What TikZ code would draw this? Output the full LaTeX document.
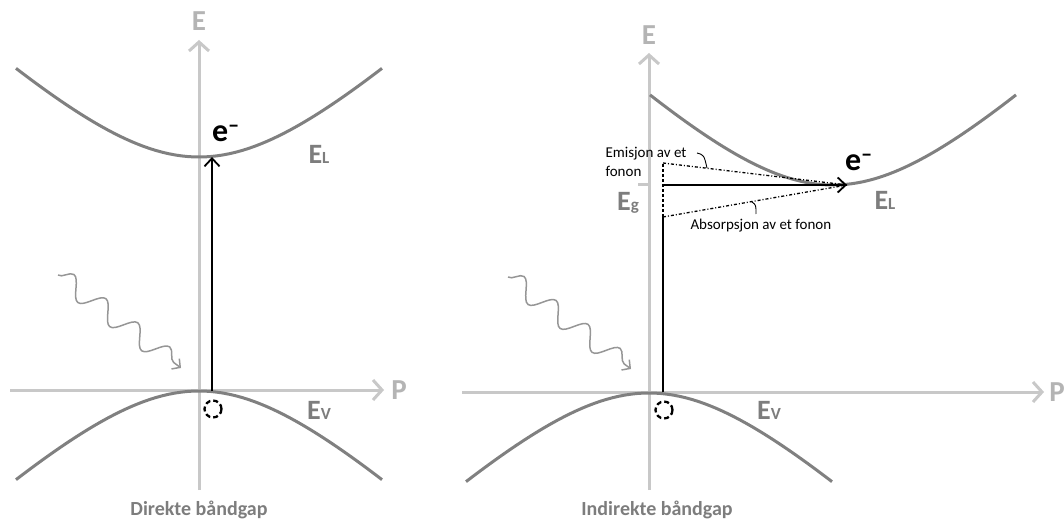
\documentclass[tikz,border=0pt]{standalone}
\usepackage{fontspec}
\setmainfont{Carlito}
\usetikzlibrary{arrows.meta,decorations.pathmorphing,positioning}

\definecolor{axisgray}{RGB}{200,200,200}
\definecolor{bandgray}{RGB}{128,128,128}
\definecolor{labelgray}{RGB}{125,125,125}
\definecolor{wavegray}{RGB}{150,150,150}

\tikzset{
  axis/.style={draw=axisgray, line width=3pt, -{Straight Barb[length=9pt,width=20pt]}},
  band/.style={draw=bandgray, line width=3pt},
  excite/.style={draw=black, line width=1.8pt, -{Straight Barb[length=8pt,width=15pt]}},
  phonon/.style={draw=black, line width=1.3pt, dash pattern=on 3pt off 2pt on 1pt off 2pt},
  hole/.style={circle, draw=black, line width=2.3pt, dash pattern=on 5pt off 3pt, minimum size=17pt, inner sep=0pt},
  photon/.style={draw=wavegray, line width=1.5pt, decorate,
    decoration={snake, amplitude=10pt, segment length=40pt, post length=8pt},
    -{Straight Barb[length=6pt,width=13pt]}},
  axlabel/.style={text=axisgray!90!black, font=\fontsize{29}{30}\selectfont\bfseries},
  bandlabel/.style={text=labelgray, font=\fontsize{28}{30}\selectfont\bfseries},
  elabel/.style={font=\fontsize{32}{34}\selectfont\bfseries},
  caption/.style={text=labelgray, font=\fontsize{20}{22}\selectfont\bfseries},
  note/.style={font=\fontsize{15}{19}\selectfont, align=left}
}

\newcommand{\lowsub}[1]{{\fontsize{17}{17}\selectfont #1}}

\begin{document}
\begin{tikzpicture}[x=1pt, y=-1pt]

  \useasboundingbox (0,0) rectangle (1064,521);

  % ---- Direkte baandgap ----
  % Axes
  \coordinate (EbotL) at (199,490);
  \coordinate (EtopL) at (199,40);
  \coordinate (PbegL) at (10,390);
  \coordinate (PendL) at (384,390);
  \draw[axis] (EbotL) -- (EtopL);
  \draw[axis] (PbegL) -- (PendL);
  \node[axlabel] (ElabL) at (199,21) {E};
  \node[axlabel] (PlabL) at (399,390) {P};

  % Bands
  \draw[band] plot[domain=-183:183, samples=61] ({199+\x}, {157-122*(sqrt(1+(\x/130)^2)-1)});
  \draw[band] plot[domain=-183:183, samples=61] ({199+\x}, {391+122*(sqrt(1+(\x/130)^2)-1)});
  \node[bandlabel] (ELL) at (319,154) {E\lowsub{L}};
  \node[bandlabel] (EVL) at (319,410) {E\lowsub{V}};

  % Excitation
  \coordinate (vtopL) at (212,391);
  \coordinate (cbotL) at (212,157);
  \draw[excite] (vtopL) -- (cbotL);
  \node[elabel] (eL) at (226,133) {e\textsuperscript{–}};
  \node[hole] (holeL) at (213,409) {};

  % Photon
  \coordinate (phsL) at (58,275);
  \coordinate (pheL) at (181,368);
  \draw[photon] (phsL) -- (pheL);

  \node[caption] (capL) at (199,510) {Direkte båndgap};

  % ---- Indirekte baandgap ----
  % Axes
  \coordinate (EbotR) at (649,490);
  \coordinate (EtopR) at (649,53);
  \coordinate (PbegR) at (462,392);
  \coordinate (PendR) at (1044,392);
  \draw[axis] (EbotR) -- (EtopR);
  \draw[axis] (PbegR) -- (PendR);
  \node[axlabel] (ElabR) at (649,35) {E};
  \node[axlabel] (PlabR) at (1057,392) {P};

  % Bands
  \draw[band] plot[domain=-183:183, samples=61] ({833+\x}, {185-124*(sqrt(1+(\x/130)^2)-1)});
  \draw[band] plot[domain=-183:183, samples=61] ({649+\x}, {393+122*(sqrt(1+(\x/130)^2)-1)});
  \node[bandlabel] (ELR) at (885,200) {E\lowsub{L}};
  \node[bandlabel] (EVR) at (769,410) {E\lowsub{V}};

  % Band gap mark
  \coordinate (gapA) at (638,185);
  \coordinate (gapB) at (649,185);
  \draw[draw=axisgray, line width=3pt] (gapA) -- (gapB);
  \node[bandlabel] (EgR) at (628,203) {E\lowsub{g}};

  % Excitation via phonon
  \coordinate (vtopR) at (663,392);
  \coordinate (absR) at (663,217);
  \coordinate (midR) at (663,185);
  \coordinate (emiR) at (663,163);
  \coordinate (cminR) at (847,185);
  \draw[black, line width=1.8pt] (vtopR) -- (absR);
  \draw[black, line width=1.3pt, dash pattern=on 3pt off 2pt] (absR) -- (emiR);
  \draw[excite] (midR) -- (cminR);
  \draw[phonon] (emiR) -- (cminR);
  \draw[phonon] (absR) -- (cminR);
  \node[elabel] (eR) at (859,162) {e\textsuperscript{–}};
  \node[hole] (holeR) at (664,410) {};

  % Phonon labels
  \node[note, anchor=west] (emiLab) at (602,162) {Emisjon av et\\fonon};
  \node[note, anchor=west] (absLab) at (687,226) {Absorpsjon av et fonon};
  \coordinate (emiHookA) at (697,153);
  \coordinate (emiHookB) at (707,168);
  \coordinate (absHookA) at (752,202);
  \coordinate (absHookB) at (756,214);
  \draw[black, line width=0.9pt] (emiHookA) .. controls (704,155) .. (emiHookB);
  \draw[black, line width=0.9pt] (absHookA) .. controls (756,205) .. (absHookB);

  % Photon
  \coordinate (phsR) at (508,277);
  \coordinate (pheR) at (631,369);
  \draw[photon] (phsR) -- (pheR);

  \node[caption] (capR) at (657,510) {Indirekte båndgap};

\end{tikzpicture}
\end{document}
